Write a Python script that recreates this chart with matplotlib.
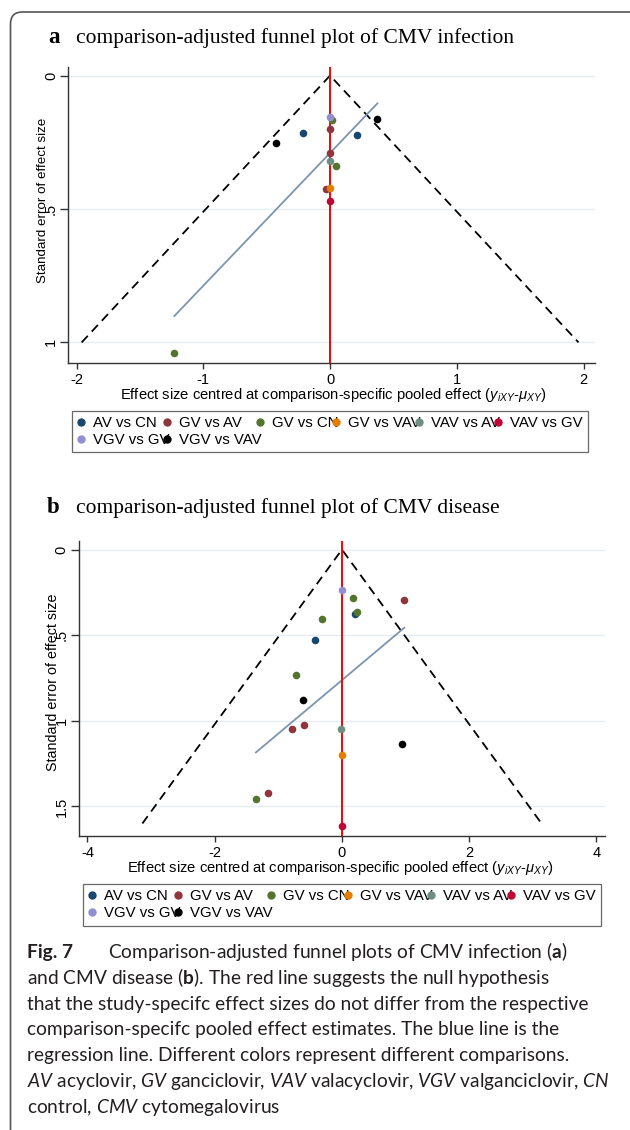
import numpy as np
import matplotlib.pyplot as plt
from matplotlib.lines import Line2D
from matplotlib.patches import FancyBboxPatch
from matplotlib.transforms import IdentityTransform

plt.rcParams['font.family'] = ['Liberation Sans', 'DejaVu Sans']
plt.rcParams['mathtext.fontset'] = 'custom'
plt.rcParams['mathtext.rm'] = 'Liberation Sans'
plt.rcParams['mathtext.it'] = 'Liberation Sans:italic'
plt.rcParams['mathtext.bf'] = 'Lato:bold'
plt.rcParams['mathtext.sf'] = 'Lato:italic'

W, H = 630, 1130

comparisons = ["AV vs CN", "GV vs AV", "GV vs CN", "GV vs VAV",
               "VAV vs AV", "VAV vs GV", "VGV vs GV", "VGV vs VAV"]
colors = ["#1a476f", "#90353b", "#55752f", "#e37e00",
          "#6e8e84", "#c10534", "#938dd2", "#000000"]

# a: CMV infection, effect size centred at pooled effect / standard error
inf_x = [[-0.215, 0.215], [0.002, 0.0, -0.034], [0.018, 0.047, -1.229], [0.0],
         [0.0], [0.0], [0.0], [0.373, -0.426]]
inf_se = [[0.217, 0.222], [0.201, 0.289, 0.426], [0.166, 0.339, 1.041], [0.422],
          [0.320], [0.469], [0.154], [0.162, 0.253]]

# b: CMV disease
dis_x = [[0.204, -0.425], [0.98, -0.593, -0.781, -1.164],
         [0.167, 0.23, -0.321, -0.729, -1.352], [0.0], [-0.01], [0.0], [0.0],
         [-0.608, 0.937]]
dis_se = [[0.375, 0.527], [0.295, 1.025, 1.048, 1.424],
          [0.283, 0.367, 0.404, 0.731, 1.456], [1.200], [1.047], [1.615], [0.235],
          [0.877, 1.138]]

caption = [
    "Comparison-adjusted funnel plots of CMV infection (" + r"$\mathbf{a}$" + ")",
    "and CMV disease (" + r"$\mathbf{b}$" + "). The red line suggests the null hypothesis",
    "that the study-specifc effect sizes do not differ from the respective",
    "comparison-specifc pooled effect estimates. The blue line is the",
    "regression line. Different colors represent different comparisons.",
    r"$\mathsf{AV}$ acyclovir, $\mathsf{GV}$ ganciclovir, $\mathsf{VAV}$ valacyclovir, "
    r"$\mathsf{VGV}$ valganciclovir, $\mathsf{CN}$",
    r"control, $\mathsf{CMV}$ cytomegalovirus",
]

fig = plt.figure(figsize=(W / 100, H / 100), dpi=100)


def px_box(left, top, right, bottom):
    return [left / W, 1 - bottom / H, (right - left) / W, (bottom - top) / H]


def funnel(rect, xs, ses, se_max, xlim, ylim, yticks, ylabels, xticks, ylab_pos, xlab_pos, ylab_size):
    ax = fig.add_axes(rect)
    for k in range(len(comparisons)):
        ax.scatter(xs[k], ses[k], s=30, color=colors[k], linewidths=0, zorder=5)
    allx = np.concatenate(xs)
    alls = np.concatenate(ses)
    # fitted line of standard error on effect size, drawn over the data range
    slope, icpt = np.polyfit(allx, alls, 1)
    xx = np.array([allx.min(), allx.max()])
    ax.plot(xx, icpt + slope * xx, color="#7b95ae", lw=1.3, zorder=3)
    ax.plot([-1.96 * se_max, 0, 1.96 * se_max], [se_max, 0, se_max],
            color="black", lw=1.3, ls=(0, (5, 3.2)), zorder=2)
    ax.axvline(0, color="red", lw=1.4, zorder=4)

    ax.set_xlim(*xlim)
    ax.set_ylim(*ylim)
    ax.set_yticks(yticks)
    ax.set_yticklabels(ylabels)
    ax.set_xticks(xticks)
    ax.set_xticklabels([str(t) for t in xticks])
    ax.set_axisbelow(True)
    ax.yaxis.grid(True, color="#e4edf1", lw=1.0)
    for s in ["top", "right"]:
        ax.spines[s].set_visible(False)
    for s in ["left", "bottom"]:
        ax.spines[s].set_color("#333333")
        ax.spines[s].set_linewidth(1.0)
    ax.tick_params(axis="x", length=4.6, width=1, color="#333333", labelsize=10.5, pad=2.5)
    ax.tick_params(axis="y", length=5.5, width=1, color="#333333", labelsize=10.5, pad=1.5)
    plt.setp(ax.get_yticklabels(), rotation=90, va="center")

    ax.set_ylabel("Standard error of effect size", fontsize=ylab_size)
    ax.yaxis.label.set_va("center")
    ax.yaxis.set_label_coords(*ylab_pos)
    ax.set_xlabel("Effect size centred at comparison-specific pooled effect "
                  r"($y_{iXY}$-$\mu_{XY}$)", fontsize=10.6)
    ax.xaxis.label.set_va("center")
    ax.xaxis.set_label_coords(*xlab_pos)
    return ax


def legend_box(left, top, right, bottom):
    # matplotlib fills legend columns first, so interleave to get Stata's row order
    order = [0, 6, 1, 7, 2, 3, 4, 5]
    handles = [Line2D([], [], ls="", marker="o", ms=5, color=colors[i]) for i in order]
    labels = [comparisons[i] for i in order]
    leg = fig.legend(handles, labels, ncol=6, loc="upper left",
                     bbox_to_anchor=px_box(left, top, right, bottom), mode="expand",
                     borderaxespad=0, fontsize=10.8, frameon=True, fancybox=False,
                     borderpad=0.35, handlelength=0.4, handletextpad=0.6,
                     labelspacing=0.2, columnspacing=0.3)
    leg.get_frame().set_edgecolor("#444444")
    leg.get_frame().set_linewidth(0.9)


# panel a
fig.text(48 / W, 1 - 43 / H, "a", family="Liberation Serif", weight="bold",
         fontsize=16.5, va="baseline")
fig.text(76.4 / W, 1 - 43 / H, "comparison-adjusted funnel plot of CMV infection",
         family="Liberation Serif", fontsize=15.5, va="baseline")
funnel(px_box(67.7, 67.3, 595, 362.7), inf_x, inf_se, 1.0, (-2.07, 2.09), (1.076, -0.031),
       [0, 0.5, 1], ["0", ".5", "1"], [-2, -1, 0, 1, 2],
       (-0.0463, 0.548), (0.503, -0.109), 9.6)
legend_box(72.4, 410.7, 588, 458.3)

# panel b
fig.text(47 / W, 1 - 513.3 / H, "b", family="Liberation Serif", weight="bold",
         fontsize=16.5, va="baseline")
fig.text(76.4 / W, 1 - 513.3 / H, "comparison-adjusted funnel plot of CMV disease",
         family="Liberation Serif", fontsize=15.5, va="baseline")
funnel(px_box(78.5, 541, 605.4, 836), dis_x, dis_se, 1.6, (-4.14, 4.14), (1.673, -0.05),
       [0, 0.5, 1, 1.5], ["0", ".5", "1", "1.5"], [-4, -2, 0, 2, 4],
       (-0.0475, 0.52), (0.498, -0.108), 10.3)
legend_box(83.3, 884, 600.6, 932)

# caption
base = 958
fig.text(27.4 / W, 1 - base / H, "Fig. 7", family="Lato", weight="bold",
         fontsize=13.8, va="baseline", color="#231f20")
for i, line in enumerate(caption):
    x0 = 108 if i == 0 else 27.4
    fig.text(x0 / W, 1 - (base + i * 25.8) / H, line, family="Lato",
             fontsize=13.8, va="baseline", color="#231f20")

border = FancyBboxPatch((10.5, -40), 660, H - 12 + 40, boxstyle="round,pad=0,rounding_size=12",
                        transform=IdentityTransform(), fill=False, edgecolor="#555555", lw=1.2)
fig.add_artist(border)

fig.savefig("out.png", dpi=100)
